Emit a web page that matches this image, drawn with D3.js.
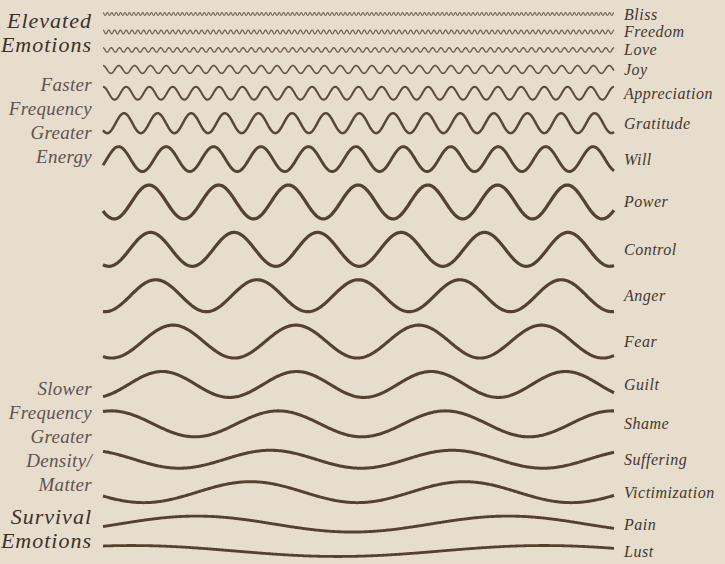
<!DOCTYPE html>
<html>
<head>
<meta charset="utf-8">
<script src="https://cdnjs.cloudflare.com/ajax/libs/d3/7.8.5/d3.min.js"></script>
<style>
  body { margin: 0; background: #e6ddcc; }
  svg { display: block; }
</style>
</head>
<body>
<svg width="725" height="564"></svg>
<script>
// one wave per emotion, top (fast) to bottom (slow)
var emotions = ['Bliss', 'Freedom', 'Love', 'Joy', 'Appreciation', 'Gratitude', 'Will', 'Power', 'Control',
                'Anger', 'Fear', 'Guilt', 'Shame', 'Suffering', 'Victimization', 'Pain', 'Lust'];
var amplitude = [1.4, 1.9, 2.2, 3.9, 6.5, 10, 12.5, 17, 17, 16, 16.5, 13, 13, 9, 10.5, 8, 5.5];
var cycles = [116, 88, 62, 32.3, 22, 15.2, 10.77, 7.33, 6.12, 5.04, 4.16, 3.8, 3.06, 2.81, 2.39, 1.64, 1.24];
var phase = [0, 0, 0, 0, 0, 0.625, 0.33, 0.66, 0.57, 0.52, 0.57, 0.44, 0.05, 0.92, 0.69, 0.30, 0.07]; // first crest, in cycles

var groupLines = [['Elevated', 'Emotions'], ['Faster', 'Frequency', 'Greater', 'Energy'],
                  ['Slower', 'Frequency', 'Greater', 'Density/', 'Matter'], ['Survival', 'Emotions']];
var groupStrong = [true, false, false, true];

function main() {
    var svg = d3.select('svg');
    var gap = 13.5;     // space between neighbouring waves, in amplitude units
    var minStep = 18;   // thin waves still need room for their labels
    var font = "'Liberation Serif', serif";

    // stack the waves: each one sits below the previous by both amplitudes + gap
    var pos = [0];
    for (var i = 1; i < emotions.length; i++) {
        pos.push(pos[i - 1] + Math.max(minStep, amplitude[i - 1] + amplitude[i] + gap));
    }

    var xScale = d3.scaleLinear().domain([0, 1]).range([103, 614]);
    var yScale = d3.scaleLinear().domain([0, pos[pos.length - 1]]).range([14, 551]);
    var ampScale = function(a) { return yScale(a) - yScale(0); };

    var widthScale = d3.scaleLog().domain([116, 32, 15, 8, 1.2]).range([1.2, 1.6, 2.5, 3.3, 2.8]).clamp(true);
    var colorScale = d3.scaleLog().domain([116, 30, 10]).range(['#7a6b62', '#624f44', '#55412f']).clamp(true);

    var line = d3.line().x(function(d) { return d[0]; }).y(function(d) { return d[1]; });

    var rows = emotions.map(function(name, i) {
        var n = Math.max(500, Math.round(cycles[i] * 30));
        var cy = yScale(pos[i]);
        var a = ampScale(amplitude[i]);
        var pts = d3.range(n + 1).map(function(k) {
            var t = k / n;
            return [xScale(t), cy - a * Math.cos(2 * Math.PI * (t * cycles[i] - phase[i]))];
        });
        return {name: name, cy: cy, pts: pts, cycles: cycles[i]};
    });

    svg.selectAll('.wave')
       .data(rows)
       .enter().append('path')
       .attr('class', 'wave')
       .attr('d', function(d) { return line(d.pts); })
       .attr('fill', 'none')
       .attr('stroke', function(d) { return colorScale(d.cycles); })
       .attr('stroke-width', function(d) { return widthScale(d.cycles); })
       .attr('stroke-linejoin', 'round');

    svg.selectAll('.name')
       .data(rows)
       .enter().append('text')
       .attr('class', 'name')
       .attr('x', 624)
       .attr('y', function(d) { return d.cy + 5.5; })
       .attr('fill', '#45372f')
       .style('font-family', font)
       .style('font-style', 'italic')
       .style('font-size', '16px')
       .style('letter-spacing', '0.5px')
       .text(function(d) { return d.name; });

    // side notes on the left
    var noteTop = [28, 91, 395, 524];
    groupLines.forEach(function(lines, gi) {
        var strong = groupStrong[gi];
        svg.append('g').selectAll('text')
           .data(lines)
           .enter().append('text')
           .attr('x', 92)
           .attr('y', function(d, k) { return noteTop[gi] + k * 24; })
           .attr('text-anchor', 'end')
           .attr('fill', strong ? '#3b302b' : '#5f544e')
           .style('font-family', font)
           .style('font-style', 'italic')
           .style('font-size', strong ? '22px' : '19px')
           .style('letter-spacing', strong ? '1px' : '0.3px')
           .text(function(d) { return d; });
    });
}
main();
</script>
</body>
</html>
